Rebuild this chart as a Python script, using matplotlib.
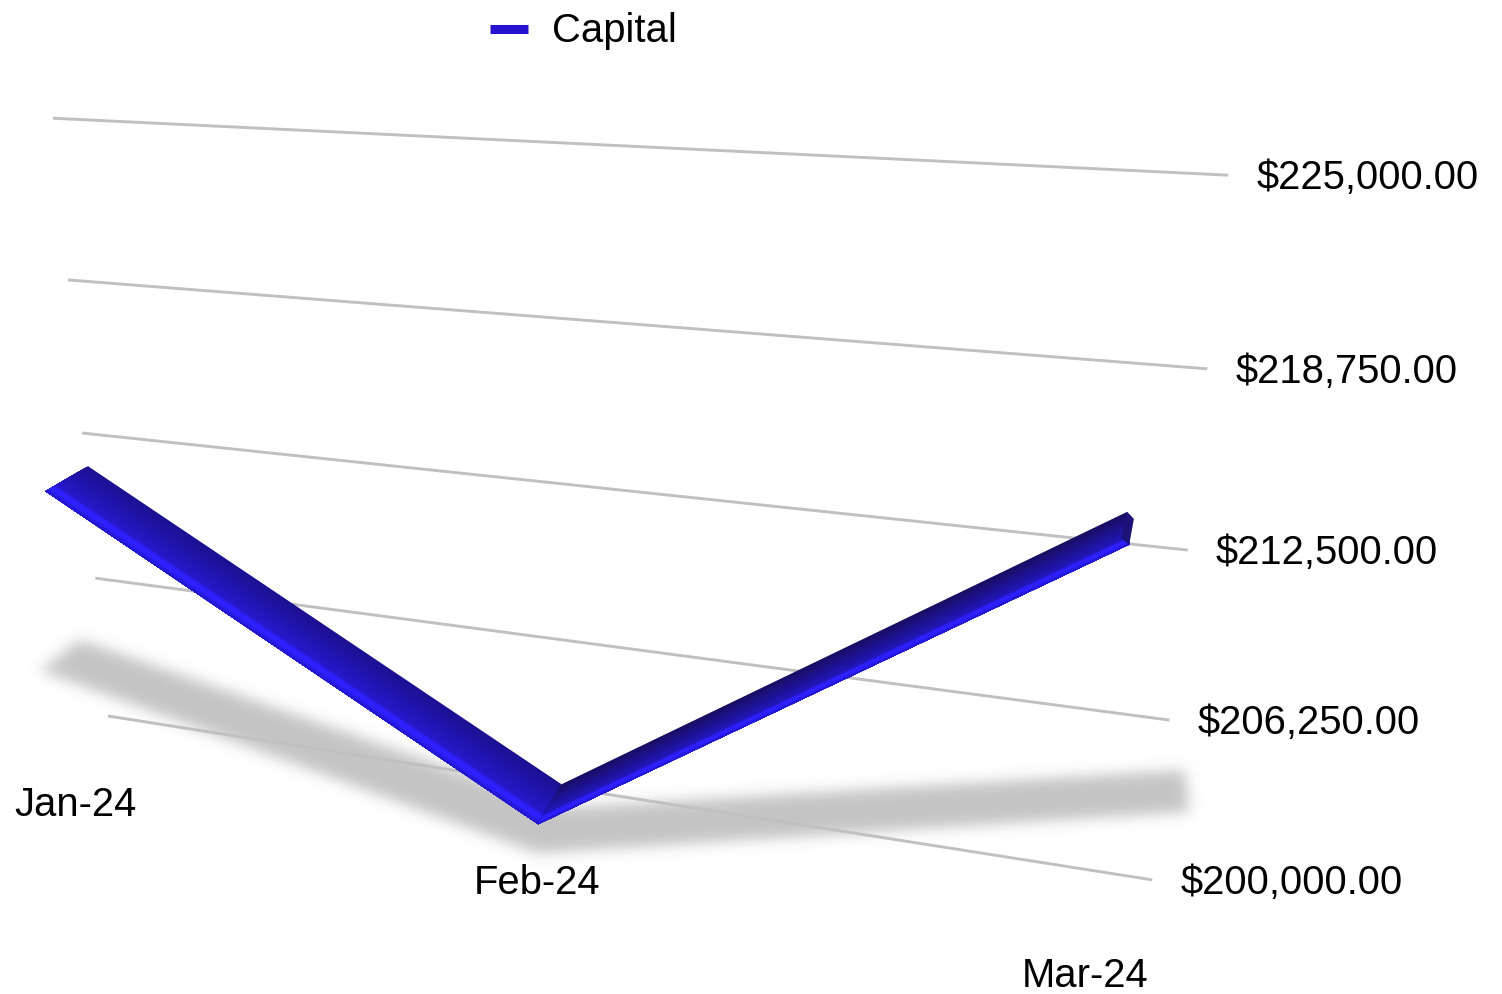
import numpy as np
import matplotlib
matplotlib.use("Agg")
import matplotlib.pyplot as plt
from matplotlib.collections import PolyCollection
from matplotlib.colors import LinearSegmentedColormap
from matplotlib.lines import Line2D
from matplotlib.path import Path

plt.rcParams["font.family"] = ["Liberation Sans", "DejaVu Sans"]

months = ["Jan-24", "Feb-24", "Mar-24"]
capital = [211030, 200000, 213550]
grid_values = [200000, 206250, 212500, 218750, 225000]

W, H = 1502, 994
FONT = 28.8
PX = 0.72  # points per pixel at dpi 100

# camera: vanishing points of the category, value and depth directions
cam = np.array([
    [-5379, 597, 1088, 108],
    [-145, 6031, -120, 716],
    [1, 1, 1, 1],
], dtype=float)
cam[:, 0] *= -0.0761
cam[:, 1] *= -0.1011 / 25000
WALL_END = 2.101
BACK, FRONT = 0.0027, -0.0365


def project(c, v, d):
    c, v, d = np.broadcast_arrays(c, v, d)
    h = cam @ np.array([c, np.asarray(v) - 200000.0, d, np.ones_like(c)], dtype=float)
    return np.column_stack([h[0] / h[2], h[1] / h[2]])


fig = plt.figure(figsize=(W / 100, H / 100), dpi=100)
ax = fig.add_axes([0, 0, 1, 1])
ax.set_xlim(0, W)
ax.set_ylim(H, 0)
ax.axis("off")

# soft shadow under the ribbon, thrown further forward where the line is low
pos = np.arange(len(capital))
frac = (np.array(capital) - 200000) / 25000
shadow_c = pos * 1.075 + 0.055 * (1 - frac / 0.441)
shadow_back = -0.105 + 0.142 * frac + 0.12 * frac**2
shadow_front = shadow_back - 0.037
outline = np.vstack([
    project(shadow_c, 204150, shadow_back),
    project(shadow_c[::-1], 204150, shadow_front[::-1]),
])
gx, gy = np.meshgrid(np.arange(W) + 0.5, np.arange(H) + 0.5)
mask = Path(outline).contains_points(np.column_stack([gx.ravel(), gy.ravel()]))
mask = mask.reshape(H, W).astype(float)
r = np.arange(-24, 25)
kernel = np.exp(-r**2 / (2 * 7.0**2))
kernel /= kernel.sum()
mask = np.apply_along_axis(np.convolve, 0, mask, kernel, mode="same")
mask = np.apply_along_axis(np.convolve, 1, mask, kernel, mode="same")
rgba = np.ones((H, W, 4)) * 0.77
rgba[..., 3] = mask
ax.imshow(rgba, extent=(0, W, H, 0), aspect="auto", zorder=1, interpolation="nearest")

# grid lines and value labels
for v in grid_values:
    xy = project([0, WALL_END], v, 0)
    ax.plot(xy[:, 0], xy[:, 1], color="#c0c0c0", lw=2.1, solid_capstyle="butt", zorder=2)
    ax.annotate(f"${v:,.2f}", xy[1], xytext=(28 * PX, -3 * PX), textcoords="offset points",
                fontsize=FONT, ha="left", va="center", color="black")

# category labels along the floor
for i, m in enumerate(months):
    xy = project(i, 197530, -0.0377)[0]
    ax.annotate(m, xy, xytext=(-i * PX, (-2 + 2.5 * i) * PX), textcoords="offset points",
                fontsize=FONT, ha="center", va="center", color="black", annotation_clip=False)

# ribbon: strips painted back to front, each running to the front edge so no seams show
stops_left = [(0, "#1c1090"), (0.4, "#2014ae"), (0.76, "#2618ca"), (0.82, "#2e20ff"),
              (0.9, "#2e20ff"), (1, "#2016c4")]
stops_right = [(0, "#180e60"), (0.4, "#1c1290"), (0.76, "#2216ba"), (0.82, "#2e20ff"),
               (0.9, "#2e20ff"), (1, "#2016cc")]
strips = np.linspace(0, 1, 41)
for i, stops in enumerate([stops_left, stops_right]):
    cmap = LinearSegmentedColormap.from_list("ribbon", stops)
    polys, cols = [], []
    for t0, t1 in zip(strips[:-1], strips[1:]):
        d0 = BACK + (FRONT - BACK) * t0
        polys.append(np.vstack([
            project([i, i + 1], capital[i:i + 2], d0),
            project([i + 1, i], capital[i:i + 2][::-1], FRONT),
        ]))
        cols.append(cmap((t0 + t1) / 2))
    ax.add_collection(PolyCollection(polys, facecolors=cols, edgecolors="none", zorder=3))

# end cap on the last month
end = len(capital) - 1
ridge = BACK + (FRONT - BACK) * 0.84
cap = np.vstack([
    project(end, capital[end], BACK),
    project(end + 0.01, capital[end], BACK - 0.008),
    project(end, capital[end], FRONT),
    project(end - 0.012, capital[end], ridge),
])
ax.fill(cap[:, 0], cap[:, 1], color="#1c1278", lw=0, zorder=4)

handle = Line2D([], [], color="#2414d0", lw=6.5, solid_capstyle="butt")
ax.legend([handle], ["Capital"], loc="center left", bbox_to_anchor=(490, 31.5),
          bbox_transform=ax.transData, frameon=False, fontsize=FONT, borderpad=0,
          borderaxespad=0, handlelength=0.95, handletextpad=0.6)

fig.savefig("out.png", dpi=100)
